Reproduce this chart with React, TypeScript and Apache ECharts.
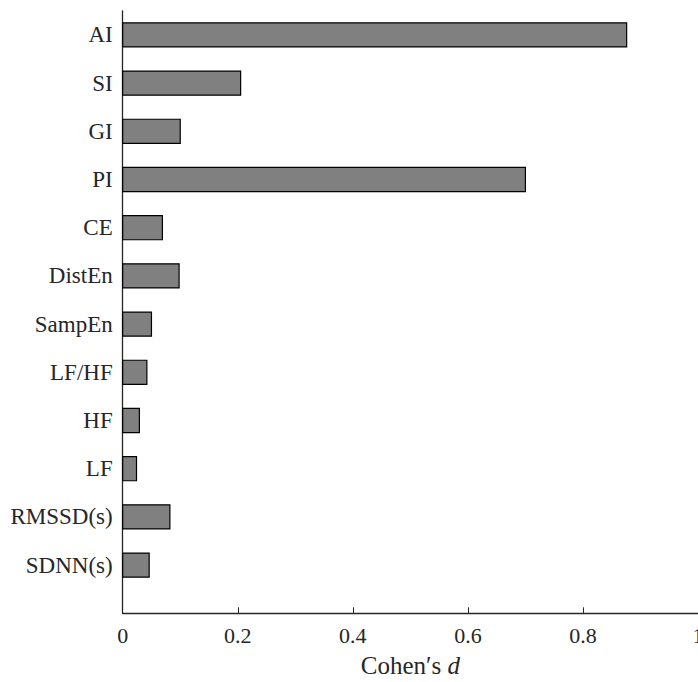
import React, { useEffect, useRef } from "react";
import * as echarts from "echarts";

// Effect sizes (Cohen's d) per HRV feature, listed top to bottom
const categories = ["AI", "SI", "GI", "PI", "CE", "DistEn", "SampEn", "LF/HF", "HF", "LF", "RMSSD(s)", "SDNN(s)"];
const cohensD = [0.876, 0.205, 0.1, 0.7, 0.069, 0.098, 0.05, 0.042, 0.029, 0.024, 0.082, 0.046];
const xTickValues = [0, 0.2, 0.4, 0.6, 0.8, 1];

const FONT = "'Liberation Serif', 'Times New Roman', serif";
const INK = "#262626";

export default function App() {
  const ref = useRef<HTMLDivElement>(null);

  useEffect(() => {
    if (!ref.current) return;
    const chart = echarts.init(ref.current, undefined, { renderer: "svg" });
    const n = categories.length;
    // row position on the y axis: first category at the top
    const positions = categories.map((_, i) => n - i);
    const data = cohensD.map((v, i) => [v, positions[i]]);

    chart.setOption({
      animation: false,
      backgroundColor: "#ffffff",
      grid: { left: 122.7, right: 0, top: 10.8, bottom: 68.7, outerBoundsMode: "none", containLabel: false },
      xAxis: {
        type: "value",
        min: 0,
        max: 1,
        interval: 0.2,
        axisLine: { show: true, lineStyle: { color: INK, width: 1.3 } },
        axisTick: { show: true, inside: true, length: 6, lineStyle: { color: INK, width: 1 }, customValues: xTickValues },
        axisLabel: {
          margin: 11,
          fontSize: 22,
          fontFamily: FONT,
          color: INK,
          customValues: xTickValues,
          hideOverlap: false,
          formatter: (v: number) => String(Math.round(v * 10) / 10),
        },
        splitLine: { show: false },
        name: "Cohen\u2032s {it|d}",
        nameLocation: "middle",
        nameGap: 40,
        nameTextStyle: {
          fontSize: 25,
          fontFamily: FONT,
          color: INK,
          rich: {
            it: { fontSize: 25, fontFamily: FONT, fontStyle: "italic", color: INK },
          },
        },
      },
      yAxis: {
        type: "value",
        min: 0,
        max: n + 0.5,
        axisLine: { show: true, lineStyle: { color: INK, width: 1.3 } },
        axisTick: { show: true, inside: true, length: 6, lineStyle: { color: INK, width: 1.3 }, customValues: positions },
        axisLabel: {
          margin: 10,
          fontSize: 23,
          fontFamily: FONT,
          color: INK,
          customValues: positions,
          formatter: (v: number) => categories[n - Math.round(v)] ?? "",
        },
        splitLine: { show: false },
      },
      series: [
        {
          type: "custom",
          encode: { x: 0, y: 1 },
          data,
          z: 1,
          renderItem: (_params: any, api: any) => {
            const v = api.value(0);
            const p = api.value(1);
            const start = api.coord([0, p]);
            const end = api.coord([v, p]);
            const h = api.size([0, 0.5])[1];
            return {
              type: "rect",
              shape: { x: start[0], y: start[1] - h / 2, width: end[0] - start[0], height: h },
              style: { fill: "#808080", stroke: "#000000", lineWidth: 1.2 },
            };
          },
        },
      ],
    });

    return () => chart.dispose();
  }, []);

  return (
    <div
      ref={ref}
      style={{ position: "absolute", left: 0, top: 0, width: 698, height: 682, background: "#fff" }}
    />
  );
}
